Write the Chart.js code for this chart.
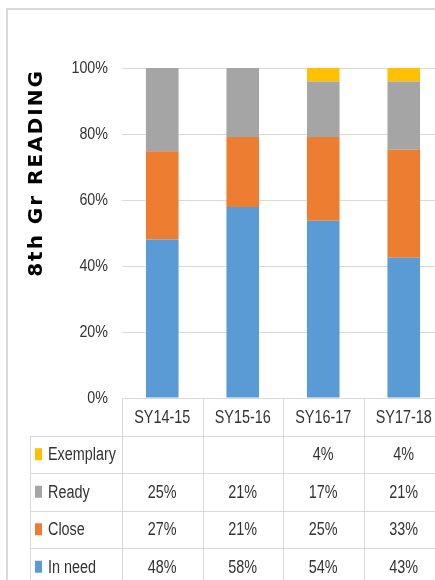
<!DOCTYPE html>
<html>
<head>
<meta charset="utf-8">
<script src="https://cdn.jsdelivr.net/npm/chart.js@4/dist/chart.umd.min.js"></script>
<style>
  html, body { margin: 0; padding: 0; background: #fff; overflow: hidden; }
  #c { position: absolute; left: 0; top: 0; }
</style>
</head>
<body>
<canvas id="c" width="460" height="600"></canvas>
<script>
const categories = ['SY14-15', 'SY15-16', 'SY16-17', 'SY17-18'];
const inNeed    = [48.0, 57.9, 53.7, 42.5];
const close     = [26.8, 21.2, 25.4, 32.7];
const ready     = [25.2, 20.9, 16.8, 20.7];
const exemplary = [null, null, 4.1, 4.1];
const yTicks = [0, 20, 40, 60, 80, 100];
const title = '8th Gr READING';

const FONT = "'Liberation Sans', Arimo, Arial, sans-serif";
const TXT = '#333333';
const LINE = '#d9d9d9';

function narrowText(ctx, text, x, y, align, sx) {
  ctx.save();
  ctx.translate(x, y);
  ctx.scale(sx, 1);
  ctx.textAlign = align;
  ctx.fillText(text, 0, 0);
  ctx.restore();
}

const tablePlugin = {
  id: 'dataTable',
  afterDraw(chart) {
    const ctx = chart.ctx;
    const area = chart.chartArea;
    const xs = chart.scales.x;
    const ys = chart.scales.y;
    const rowH = 37.5;
    const step = xs.getPixelForValue(1) - xs.getPixelForValue(0);
    const colLeft = i => xs.getPixelForValue(i) - step / 2;
    const legendLeft = area.left - 92;
    const top = area.bottom;
    const rows = chart.data.datasets.slice().reverse();
    const nRows = rows.length + 1;
    const bottom = top + rowH * nRows;

    ctx.save();
    ctx.strokeStyle = LINE;
    ctx.lineWidth = 2;
    ctx.beginPath();
    ctx.moveTo(7, chart.height); ctx.lineTo(7, 9); ctx.lineTo(chart.width, 9);
    ctx.stroke();

    ctx.lineWidth = 1;
    ctx.beginPath();
    ctx.moveTo(area.left, top + 0.5); ctx.lineTo(chart.width, top + 0.5);
    for (let r = 1; r <= nRows; r++) {
      const y = Math.round(top + r * rowH) + 0.5;
      ctx.moveTo(legendLeft, y); ctx.lineTo(chart.width, y);
    }
    for (let i = 0; i <= categories.length; i++) {
      const x = Math.round(colLeft(i)) + 0.5;
      ctx.moveTo(x, top); ctx.lineTo(x, bottom);
    }
    const lx = Math.round(legendLeft) + 0.5;
    ctx.moveTo(lx, top + rowH); ctx.lineTo(lx, bottom);
    ctx.stroke();

    ctx.fillStyle = TXT;
    ctx.textBaseline = 'middle';
    ctx.font = '17px ' + FONT;
    ys.ticks.forEach(t => {
      narrowText(ctx, t.value + '%', area.left - 14, ys.getPixelForValue(t.value), 'right', 0.84);
    });

    ctx.font = '18px ' + FONT;
    categories.forEach((c, i) => {
      narrowText(ctx, c, xs.getPixelForValue(i), top + rowH / 2 + 1, 'center', 0.8);
    });
    rows.forEach((ds, r) => {
      const cy = top + rowH * (r + 1) + rowH / 2 + 1;
      ctx.fillStyle = ds.backgroundColor;
      ctx.fillRect(legendLeft + 5, cy - 7, 7, 12);
      ctx.fillStyle = TXT;
      narrowText(ctx, ds.label, legendLeft + 18, cy, 'left', 0.8);
      ds.data.forEach((v, i) => {
        if (v === null || v === undefined) return;
        narrowText(ctx, Math.round(v) + '%', xs.getPixelForValue(i), cy, 'center', 0.8);
      });
    });

    ctx.save();
    ctx.translate(37, (area.top + area.bottom) / 2 - 60);
    ctx.rotate(-Math.PI / 2);
    ctx.fillStyle = '#000';
    ctx.font = "bold 20px 'DejaVu Sans', sans-serif";
    try { ctx.letterSpacing = '2px'; } catch (e) {}
    ctx.textAlign = 'center';
    ctx.textBaseline = 'middle';
    ctx.fillText(title, 0, 0);
    ctx.restore();
    ctx.restore();
  }
};

new Chart(document.getElementById('c'), {
  type: 'bar',
  data: {
    labels: categories,
    datasets: [
      { label: 'In need',   data: inNeed,    backgroundColor: '#5B9BD5' },
      { label: 'Close',     data: close,     backgroundColor: '#ED7D31' },
      { label: 'Ready',     data: ready,     backgroundColor: '#A5A5A5' },
      { label: 'Exemplary', data: exemplary, backgroundColor: '#FFC000' }
    ]
  },
  options: {
    responsive: false,
    animation: false,
    devicePixelRatio: 1,
    layout: { padding: { left: 0, top: 68, right: 16, bottom: 202 } },
    datasets: { bar: { barPercentage: 0.405, categoryPercentage: 1 } },
    plugins: { legend: { display: false }, tooltip: { enabled: false } },
    scales: {
      x: { display: false, stacked: true },
      y: {
        stacked: true, min: 0, max: 100,
        afterFit(s) { s.width = 122; },
        afterBuildTicks(s) { s.ticks = yTicks.map(v => ({ value: v })); },
        ticks: { display: false },
        grid: { color: LINE, lineWidth: 1, drawTicks: false },
        border: { display: false }
      }
    }
  },
  plugins: [tablePlugin]
});
</script>
</body>
</html>
